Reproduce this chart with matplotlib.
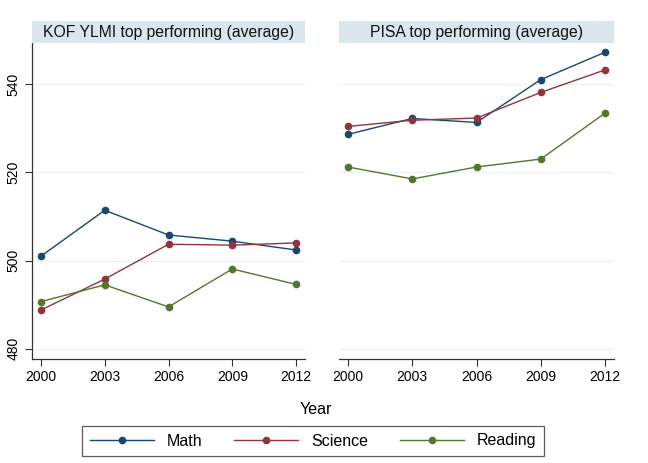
import matplotlib.pyplot as plt
from matplotlib.lines import Line2D
from matplotlib.patches import Rectangle

plt.rcParams['font.family'] = ['Liberation Sans', 'DejaVu Sans']

years = [2000, 2003, 2006, 2009, 2012]

kof_math = [501.0, 511.4, 505.8, 504.4, 502.4]
kof_science = [488.8, 495.8, 503.7, 503.5, 504.0]
kof_reading = [490.7, 494.5, 489.5, 498.1, 494.6]

pisa_math = [528.6, 532.2, 531.3, 541.0, 547.2]
pisa_science = [530.4, 531.8, 532.3, 538.1, 543.2]
pisa_reading = [521.2, 518.5, 521.2, 523.0, 533.4]

titles = ["KOF YLMI top performing (average)", "PISA top performing (average)"]
labels = ["Math", "Science", "Reading"]
colors = ["#1a476f", "#90353b", "#55752f"]
yticks = [480, 500, 520, 540]

W, H = 648, 463
fig = plt.figure(figsize=(W / 100, H / 100), dpi=100)
fig.patch.set_facecolor("white")


def px(x0, y0, x1, y1):
    return [x0 / W, 1 - y1 / H, (x1 - x0) / W, (y1 - y0) / H]


panels = [
    (px(32, 43, 305, 359), [kof_math, kof_science, kof_reading], True),
    (px(339, 43, 614, 359), [pisa_math, pisa_science, pisa_reading], False),
]

for i, (rect, series, show_y) in enumerate(panels):
    ax = fig.add_axes(rect)
    for vals, c in zip(series, colors):
        ax.plot(years, vals, color=c, lw=1.0, marker="o", ms=4.5, zorder=3)
    ax.set_xlim(1999.58, 2012.42)
    ax.set_ylim(477.7, 549.3)
    ax.set_xticks(years)
    ax.set_yticks(yticks)
    ax.grid(axis="y", color="#eaf0f2", lw=0.8)
    ax.set_axisbelow(True)
    for s in ["top", "right"]:
        ax.spines[s].set_visible(False)
    ax.spines["bottom"].set_color("#333333")
    ax.spines["bottom"].set_linewidth(0.9)
    ax.tick_params(axis="x", length=5, width=0.8, color="#333333",
                   labelsize=10, pad=3)
    if show_y:
        ax.spines["left"].set_color("#333333")
        ax.spines["left"].set_linewidth(0.9)
        ax.tick_params(axis="y", length=5, width=0.8, color="#333333",
                       labelsize=10, pad=3)
        for t in ax.get_yticklabels():
            t.set_rotation(90)
            t.set_va("center")
    else:
        ax.spines["left"].set_visible(False)
        ax.tick_params(axis="y", length=0, labelleft=False)

    # title band
    x0 = rect[0]
    fig.patches.append(Rectangle((x0, 1 - 43 / H), rect[2], 22 / H,
                                 transform=fig.transFigure,
                                 facecolor="#d9e6eb", edgecolor="none"))
    fig.text(x0 + rect[2] / 2, 1 - 32 / H, titles[i], ha="center",
             va="center", fontsize=11.3, color="#111111")

fig.text(316 / W, 1 - 410 / H, "Year", ha="center", va="center",
         fontsize=11.5)

handles = [Line2D([], [], color=c, lw=1.0, marker="o", ms=4.5)
           for c in colors]
leg = fig.legend(handles, labels, loc="center", ncol=3,
                 bbox_to_anchor=(313 / W, 1 - 441 / H), fontsize=11.5,
                 frameon=True, fancybox=False, handlelength=4,
                 columnspacing=2.0, handletextpad=0.8,
                 borderpad=0.5)
leg.get_frame().set_edgecolor("#333333")
leg.get_frame().set_linewidth(0.9)

fig.savefig("out.png", dpi=100)
